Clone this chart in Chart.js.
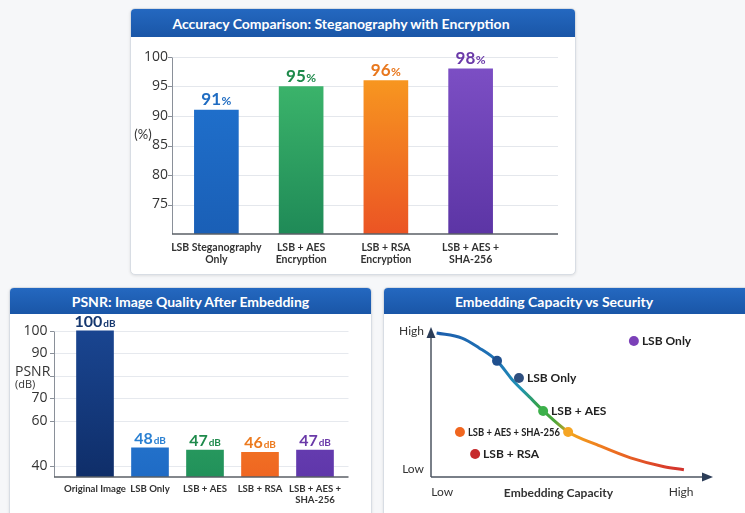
<!DOCTYPE html>
<html>
<head>
<meta charset="utf-8">
<title>Steganography with Encryption</title>
<script src="https://cdn.jsdelivr.net/npm/chart.js@4.4.1/dist/chart.umd.min.js"></script>
<style>
  html, body { margin: 0; padding: 0; width: 745px; height: 513px; overflow: hidden;
    background: #f6f7f9; font-family: Lato, "Open Sans", sans-serif; }
  .panel { position: absolute; box-sizing: border-box; background: #fff; border: 1px solid #d8dde4;
    border-radius: 5px; box-shadow: 0 1px 3px rgba(0,0,0,0.10); overflow: hidden; }
  .head { position: absolute; left: 0; top: 0; right: 0; color: #fff; font-weight: 700; font-size: 14px;
    background: linear-gradient(#2468c0, #1a56a7); }
  .head span { position: absolute; top: 0; bottom: 0; display: flex; align-items: center; justify-content: center; }
  canvas { position: absolute; }
</style>
</head>
<body>
<div class="panel" style="left:130px;top:8px;width:446px;height:267px;">
  <div class="head" style="height:28px;"><span style="left:0;right:24px;">Accuracy Comparison: Steganography with Encryption</span></div>
</div>
<div class="panel" style="left:9px;top:287px;width:363px;height:240px;">
  <div class="head" style="height:26px;"><span style="left:0;right:0;">PSNR: Image Quality After Embedding</span></div>
</div>
<div class="panel" style="left:383px;top:287px;width:380px;height:240px;">
  <div class="head" style="height:26px;"><span style="left:0;width:340px;">Embedding Capacity vs Security</span></div>
</div>

<canvas id="accuracy" width="444" height="236" style="left:131px;top:37px;"></canvas>
<canvas id="psnr" width="361" height="200" style="left:10px;top:313px;"></canvas>
<canvas id="tradeoff" width="361" height="200" style="left:384px;top:313px;"></canvas>

<script>
// ---- Accuracy of each scheme ----
const accuracyCategories = [['LSB Steganography', 'Only'], ['LSB + AES', 'Encryption'], ['LSB + RSA', 'Encryption'], ['LSB + AES +', 'SHA-256']];
const accuracyValues = [91, 95, 96, 98];
const accuracyTicks = [75, 80, 85, 90, 95, 100];

// ---- PSNR after embedding ----
const psnrCategories = ['Original Image', 'LSB Only', 'LSB + AES', 'LSB + RSA', ['LSB + AES +', 'SHA-256']];
const psnrValues = [100, 48, 47, 46, 47];
const psnrTicks = [40, 60, 70, 80, 90, 100];
const psnrTitleSlot = 80;   // the axis title sits on this grid line

// ---- Capacity vs security trade-off (0 = low, 10 = high) ----
const curveCapacity = [0.2, 1.1, 1.7, 2.35, 2.9, 3.5, 4.0, 4.9, 5.9, 7.1, 8.3, 9.0];
const curveSecurity = [9.8, 9.45, 8.8, 7.9, 6.6, 5.45, 4.5, 3.05, 2.2, 1.3, 0.7, 0.5];
const markerNames = ['', 'LSB Only', 'LSB + AES', '', 'LSB Only', 'LSB + AES + SHA-256', 'LSB + RSA'];
const markerCapacity = [2.35, 3.13, 3.99, 4.88, 7.22, 1.03, 1.57];
const markerSecurity = [7.9, 6.73, 4.49, 3.06, 9.25, 3.06, 1.56];
const capacityTicks = [0.4, 8.9];
const capacityTickLabels = ['Low', 'High'];
const securityTicks = [0.55, 9.93];
const securityTickLabels = ['Low', 'High'];

const FONT = 'Lato, "Open Sans", sans-serif';
const NUMFONT = '"Open Sans", Lato, sans-serif';

// Vertical gradient fill for a bar, from a [top, bottom] colour pair
function barGradient(pairs) {
  return (ctx) => {
    const chart = ctx.chart, a = chart.chartArea;
    const p = pairs[ctx.dataIndex];
    if (!a) return p[0];
    const g = chart.ctx.createLinearGradient(0, a.top, 0, a.bottom);
    g.addColorStop(0, p[0]);
    g.addColorStop(1, p[1]);
    return g;
  };
}

// Grid lines, y axis line and baseline, allowed to run past the bar area
const axisFrame = {
  id: 'axisFrame',
  beforeDatasetsDraw(chart, args, o) {
    const { ctx, chartArea: a, scales: { y } } = chart;
    const ax = a.left - o.extendLeft, right = a.right + o.extendRight;
    let topY = a.bottom;
    ctx.save();
    ctx.lineWidth = 1;
    y.ticks.forEach(t => {
      const py = Math.round(y.getPixelForValue(t.value)) + 0.5;
      topY = Math.min(topY, py);
      ctx.strokeStyle = o.gridColor;
      ctx.beginPath(); ctx.moveTo(ax, py); ctx.lineTo(right, py); ctx.stroke();
      ctx.strokeStyle = o.axisColor;
      ctx.beginPath(); ctx.moveTo(ax - o.tickLen, py); ctx.lineTo(ax, py); ctx.stroke();
    });
    ctx.strokeStyle = o.axisColor;
    ctx.beginPath(); ctx.moveTo(Math.round(ax) + 0.5, topY); ctx.lineTo(Math.round(ax) + 0.5, a.bottom); ctx.stroke();
    ctx.restore();
  },
  afterDatasetsDraw(chart, args, o) {
    const { ctx, chartArea: a } = chart;
    ctx.save();
    ctx.strokeStyle = o.baseColor;
    ctx.lineWidth = 1.5;
    ctx.beginPath(); ctx.moveTo(a.left - o.extendLeft, a.bottom); ctx.lineTo(a.right + o.extendRight, a.bottom); ctx.stroke();
    ctx.restore();
  }
};

// Value tag above each bar: bold number followed by a smaller unit
const valueTags = {
  id: 'valueTags',
  afterDatasetsDraw(chart, args, o) {
    const { ctx } = chart;
    const data = chart.data.datasets[0].data;
    chart.getDatasetMeta(0).data.forEach((bar, i) => {
      const num = String(data[i]);
      ctx.save();
      ctx.font = o.numFont; const w1 = ctx.measureText(num).width;
      ctx.font = o.unitFont; const w2 = ctx.measureText(o.unit).width;
      const x0 = bar.x - (w1 + w2 + o.space) / 2, yb = bar.y - o.gap;
      ctx.fillStyle = o.colors[i];
      ctx.textAlign = 'left'; ctx.textBaseline = 'alphabetic';
      ctx.font = o.numFont; ctx.fillText(num, x0, yb);
      ctx.font = o.unitFont; ctx.fillText(o.unit, x0 + w1 + o.space, yb);
      ctx.restore();
    });
  }
};

// Free text placed relative to the plot area (axis titles)
const sideText = {
  id: 'sideText',
  afterDraw(chart, args, o) {
    const { ctx, chartArea: a } = chart;
    ctx.save();
    (o.items || []).forEach(it => {
      ctx.font = it.font;
      ctx.fillStyle = it.color;
      ctx.textAlign = it.align || 'center';
      ctx.textBaseline = 'middle';
      ctx.fillText(it.text, a.left + it.dx, a.top + it.dy);
    });
    ctx.restore();
  }
};

function barOptions(cfg) {
  return {
    responsive: false,
    animation: false,
    events: [],
    layout: { autoPadding: false, padding: { left: 0, top: cfg.top, right: cfg.right, bottom: 0 } },
    plugins: {
      legend: { display: false },
      tooltip: { enabled: false },
      axisFrame: cfg.frame,
      valueTags: cfg.tags,
      sideText: { items: cfg.side }
    },
    scales: {
      x: {
        grid: { display: false, drawTicks: false },
        border: { display: false },
        ticks: { color: '#333', font: { family: FONT, size: cfg.xFont, weight: 'bold', lineHeight: 1.2 }, padding: cfg.xPad, maxRotation: 0, autoSkip: false },
        afterFit: s => { s.height = cfg.xHeight; }
      },
      y: {
        min: cfg.min, max: cfg.max,
        // tick marks themselves are drawn by axisFrame; the length only sets the label gap
        grid: { display: false, drawTicks: true, tickLength: cfg.yGap },
        border: { display: false },
        ticks: { color: '#333', font: { family: NUMFONT, size: cfg.yFont }, padding: 1, callback: cfg.yLabel },
        afterBuildTicks: s => { s.ticks = cfg.ticks.map(v => ({ value: v })); },
        afterFit: s => { s.width = cfg.yWidth; }
      }
    }
  };
}

new Chart(document.getElementById('accuracy'), {
  type: 'bar',
  data: {
    labels: accuracyCategories,
    datasets: [{
      data: accuracyValues,
      barThickness: 44,
      borderWidth: 0,
      backgroundColor: barGradient([['#2175d3', '#1a5fb6'], ['#40bb6e', '#1f8a57'], ['#f9a01f', '#eb5424'], ['#7e50c6', '#5c35a5']])
    }]
  },
  options: barOptions({
    top: 20, right: 62, xHeight: 39, xPad: 7, xFont: 10.5, yFont: 14, yGap: 5, yWidth: 43,
    min: 70, max: 100, ticks: accuracyTicks, yLabel: v => String(v),
    frame: { extendLeft: 2, extendRight: 45, gridColor: '#e4e7ec', axisColor: '#8a9099', baseColor: '#5a5f66', tickLen: 4 },
    tags: { unit: '%', numFont: `bold 17px ${FONT}`, unitFont: `bold 12px ${FONT}`, space: 0.5, gap: 5,
      colors: ['#1f6cc2', '#1e8a4b', '#e8771d', '#6a39a8'] },
    side: [{ text: '(%)', font: `13px ${FONT}`, color: '#333', dx: -31, dy: 78 }]
  }),
  plugins: [axisFrame, valueTags, sideText]
});

new Chart(document.getElementById('psnr'), {
  type: 'bar',
  data: {
    labels: psnrCategories,
    datasets: [{
      data: psnrValues,
      barThickness: 37,
      borderWidth: 0,
      backgroundColor: barGradient([['#1a4692', '#0f2e69'], ['#3088dd', '#1f6bc5'], ['#3fb56d', '#21915a'], ['#f99b26', '#ef6622'], ['#7d4ec5', '#5f37aa']])
    }]
  },
  options: barOptions({
    top: 11, right: 28.5, xHeight: 36, xPad: 6, xFont: 9.6, yFont: 14, yGap: 19, yWidth: 57.5,
    min: 35, max: 103, ticks: psnrTicks, yLabel: v => (v === psnrTitleSlot ? '' : String(v)),
    frame: { extendLeft: 13.5, extendRight: 6, gridColor: '#e6e9ee', axisColor: '#8a9099', baseColor: '#5a5f66', tickLen: 4 },
    tags: { unit: 'dB', numFont: `bold 16px ${FONT}`, unitFont: `bold 10px ${FONT}`, space: 1, gap: 4,
      colors: ['#15376f', '#2a80d2', '#1e8a4b', '#ec7a1e', '#6a39a8'] },
    side: [
      { text: 'PSNR', font: `14px ${NUMFONT}`, color: '#333', dx: -52.5, dy: 48, align: 'left' },
      { text: '(dB)', font: `11px ${NUMFONT}`, color: '#333', dx: -52.5, dy: 61, align: 'left' }
    ]
  }),
  plugins: [axisFrame, valueTags, sideText]
});

// Axes drawn as arrows, plus the marker names and x axis title
const arrowAxes = {
  id: 'arrowAxes',
  beforeDatasetsDraw(chart) {
    const { ctx, chartArea: a } = chart;
    const x0 = a.left, y0 = a.bottom;
    ctx.save();
    ctx.strokeStyle = '#4d5561';
    ctx.lineWidth = 1.5;
    ctx.beginPath(); ctx.moveTo(x0, y0); ctx.lineTo(x0, a.top + 7); ctx.stroke();
    ctx.beginPath(); ctx.moveTo(x0, y0); ctx.lineTo(a.right - 8, y0); ctx.stroke();
    ctx.fillStyle = '#2c3d58';
    ctx.beginPath(); ctx.moveTo(x0, a.top - 3); ctx.lineTo(x0 - 4.5, a.top + 8); ctx.lineTo(x0 + 4.5, a.top + 8); ctx.closePath(); ctx.fill();
    ctx.beginPath(); ctx.moveTo(a.right + 1, y0); ctx.lineTo(a.right - 10, y0 - 4.5); ctx.lineTo(a.right - 10, y0 + 4.5); ctx.closePath(); ctx.fill();
    ctx.restore();
  },
  afterDatasetsDraw(chart) {
    const { ctx, chartArea: a } = chart;
    ctx.save();
    ctx.fillStyle = '#222';
    ctx.textAlign = 'left';
    ctx.textBaseline = 'middle';
    ctx.font = `bold 12px ${FONT}`;
    chart.getDatasetMeta(0).data.forEach((pt, i) => {
      const name = markerNames[i];
      if (!name) return;
      if (name.length > 12) ctx.fillText(name, pt.x + 8, pt.y, 92); else ctx.fillText(name, pt.x + 8, pt.y);
    });
    ctx.fillStyle = '#333';
    ctx.textAlign = 'center';
    ctx.font = `bold 12px ${FONT}`;
    ctx.fillText('Embedding Capacity', (a.left + a.right) / 2 - 13, a.bottom + 16);
    ctx.restore();
  }
};

new Chart(document.getElementById('tradeoff'), {
  type: 'line',
  data: {
    datasets: [
      {
        data: markerCapacity.map((c, i) => ({ x: c, y: markerSecurity[i] })),
        showLine: false,
        pointRadius: 5,
        pointBorderWidth: 0,
        pointBackgroundColor: ['#1f4f8e', '#2f4f7f', '#3cb04a', '#f5a524', '#7b40b8', '#f0661f', '#c62a2c']
      },
      {
        data: curveCapacity.map((c, i) => ({ x: c, y: curveSecurity[i] })),
        pointRadius: 0,
        borderWidth: 3,
        cubicInterpolationMode: 'monotone',
        borderColor: (ctx) => {
          const chart = ctx.chart, a = chart.chartArea;
          if (!a) return '#1d5fae';
          const g = chart.ctx.createLinearGradient(a.left, 0, a.right, 0);
          g.addColorStop(0.0, '#1c5cab');
          g.addColorStop(0.24, '#1e74b6');
          g.addColorStop(0.32, '#1f93b4');
          g.addColorStop(0.38, '#35a24a');
          g.addColorStop(0.44, '#4aa63a');
          g.addColorStop(0.50, '#f2a21c');
          g.addColorStop(0.63, '#ee7420');
          g.addColorStop(0.85, '#d8392b');
          g.addColorStop(1.0, '#c0262e');
          return g;
        }
      }
    ]
  },
  options: {
    responsive: false,
    animation: false,
    events: [],
    layout: { autoPadding: false, padding: { left: 0, top: 17, right: 33, bottom: 0 } },
    plugins: { legend: { display: false }, tooltip: { enabled: false } },
    scales: {
      x: {
        type: 'linear', min: 0, max: 10,
        grid: { display: false, drawTicks: false },
        border: { display: false },
        ticks: { color: '#333', font: { family: FONT, size: 12 }, padding: 8,
          callback: (v, i) => capacityTickLabels[i] },
        afterBuildTicks: s => { s.ticks = capacityTicks.map(v => ({ value: v })); },
        afterFit: s => { s.height = 36; }
      },
      y: {
        type: 'linear', min: 0, max: 10,
        grid: { display: false, drawTicks: false },
        border: { display: false },
        ticks: { color: '#333', font: { family: FONT, size: 12 }, padding: 7,
          callback: (v, i) => securityTickLabels[i] },
        afterBuildTicks: s => { s.ticks = securityTicks.map(v => ({ value: v })); },
        afterFit: s => { s.width = 47; }
      }
    }
  },
  plugins: [arrowAxes]
});
</script>
</body>
</html>
